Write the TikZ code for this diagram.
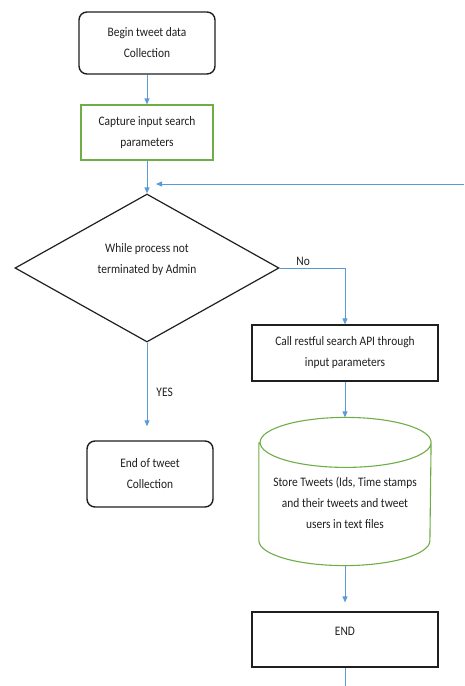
\documentclass[tikz,border=0pt]{standalone}
\usepackage{fontspec}
\setmainfont{Carlito}[FakeStretch=0.88]
\usetikzlibrary{arrows.meta,shapes.geometric}
\definecolor{flowblue}{HTML}{5B9BD5}
\definecolor{boxgreen}{HTML}{70AD47}
\definecolor{inkgray}{HTML}{1F1F1F}
\tikzset{
    base/.style={
        draw=inkgray, line width=1.2pt, align=center, text=inkgray,
        font=\fontsize{13}{21}\selectfont, inner sep=0pt
    },
    startstop/.style={base, line width=1.4pt, rounded corners=8pt},
    process/.style={base},
    input/.style={base, draw=boxgreen, line width=1.1pt},
    decision/.style={base, diamond},
    storage/.style={base, draw=none},
    caption/.style={text=inkgray, font=\fontsize{13}{21}\selectfont,
        align=center, inner sep=0pt},
    flow/.style={draw=flowblue, line width=0.9pt,
        -{Triangle[length=6pt,width=5pt]}}
}

\begin{document}
\begin{tikzpicture}[x=1pt,y=-1pt]
\useasboundingbox (0,0) rectangle (464,686);

% Nodi
\node[startstop, minimum width=136pt, minimum height=62pt] (begin)
    at (147,43) {Begin tweet data\\Collection};
\node[input, minimum width=132pt, minimum height=55pt] (capture)
    at (147,132.5) {Capture input search\\parameters};
\node[decision, minimum width=264pt, minimum height=148pt,
    label={[caption, yshift=8pt]center:While process not\\terminated by Admin}]
    (loop) at (147,268) {};
\node[process, minimum width=186pt, minimum height=56pt] (call)
    at (345,353) {Call restful search API through\\input parameters};
\node[startstop, minimum width=126pt, minimum height=66pt] (tweetend)
    at (150,474) {End of tweet\\Collection};
\node[storage, minimum width=171pt, minimum height=147pt,
    label={[caption, yshift=-11pt]center:Store Tweets (Ids, Time stamps\\and their tweets and tweet\\users in text files}]
    (store) at (345,491.5) {};
\node[process, minimum width=186pt, minimum height=55pt,
    label={[caption, yshift=8pt]center:END}] (finish) at (345,639.5) {};

% Cilindro
\draw[boxgreen, line width=1.1pt]
    ([yshift=-25pt]store.north west) -- ([yshift=25pt]store.south west)
    arc[start angle=180, end angle=360, x radius=85.5pt, y radius=25pt]
    -- ([yshift=-25pt]store.north east)
    arc[start angle=0, end angle=360, x radius=85.5pt, y radius=25pt];

% Estremi liberi
\coordinate (loopin) at (464,184);
\coordinate (out) at (345,686);

% Connettori
\draw[flow] (begin) -- (capture);
\draw[flow] (capture) -- (loop);
\draw[flow] (loopin) -- ([xshift=9pt]loop.north |- loopin);
\draw[flow] (loop.east) -| (call.north)
    node[pos=0.18, above, caption, inner sep=2pt] {No};
\draw[flow, shorten >=14pt] (loop.south) -- (loop.south |- tweetend.north)
    node[midway, right, caption, inner sep=0pt, xshift=9pt, yshift=-1pt] {YES};
\draw[flow] (call) -- (store);
\draw[flow, shorten >=9pt] (store) -- (finish);
\draw[flowblue, line width=0.9pt] (finish) -- (out);

\end{tikzpicture}
\end{document}
